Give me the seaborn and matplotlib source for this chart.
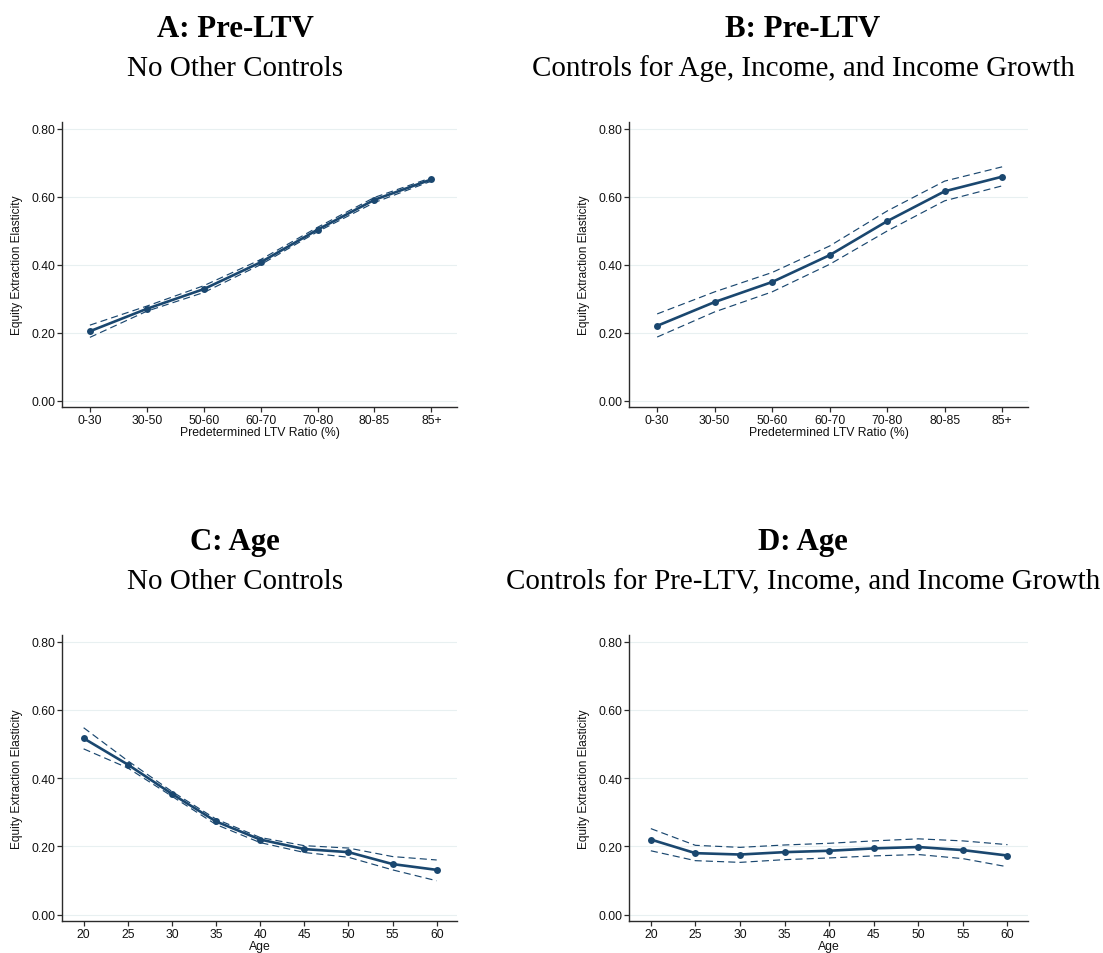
import matplotlib
matplotlib.use("Agg")
import matplotlib.pyplot as plt
import seaborn as sns
import pandas as pd

sns.set_theme(style="white")
plt.rcParams["font.family"] = ["Liberation Sans", "DejaVu Sans"]

# ---- data -------------------------------------------------------------
ltv_bins = ["0-30", "30-50", "50-60", "60-70", "70-80", "80-85", "85+"]
ages = [20, 25, 30, 35, 40, 45, 50, 55, 60]

ltv_nocontrols = [0.204, 0.270, 0.328, 0.407, 0.503, 0.591, 0.651]
ltv_nocontrols_hi = [0.222, 0.278, 0.338, 0.415, 0.510, 0.598, 0.656]
ltv_nocontrols_lo = [0.186, 0.263, 0.318, 0.400, 0.497, 0.583, 0.646]

ltv_controls = [0.220, 0.290, 0.349, 0.428, 0.528, 0.616, 0.659]
ltv_controls_hi = [0.255, 0.320, 0.377, 0.455, 0.558, 0.646, 0.688]
ltv_controls_lo = [0.187, 0.261, 0.320, 0.401, 0.499, 0.588, 0.632]

age_nocontrols = [0.517, 0.440, 0.354, 0.273, 0.220, 0.192, 0.183, 0.148, 0.131]
age_nocontrols_hi = [0.548, 0.451, 0.361, 0.280, 0.226, 0.202, 0.195, 0.170, 0.160]
age_nocontrols_lo = [0.486, 0.430, 0.347, 0.264, 0.211, 0.182, 0.168, 0.131, 0.099]

age_controls = [0.220, 0.180, 0.176, 0.183, 0.187, 0.194, 0.198, 0.189, 0.173]
age_controls_hi = [0.252, 0.203, 0.197, 0.204, 0.209, 0.216, 0.222, 0.216, 0.205]
age_controls_lo = [0.187, 0.158, 0.153, 0.161, 0.166, 0.172, 0.176, 0.164, 0.140]

y_ticks = [0.0, 0.2, 0.4, 0.6, 0.8]

titles = ["A: Pre-LTV", "B: Pre-LTV", "C: Age", "D: Age"]
subtitles = [
    "No Other Controls",
    "Controls for Age, Income, and Income Growth",
    "No Other Controls",
    "Controls for Pre-LTV, Income, and Income Growth",
]
ylabel = "Equity Extraction Elasticity"
xlabels = ["Predetermined LTV Ratio (%)", "Predetermined LTV Ratio (%)", "Age", "Age"]

# ---- style ------------------------------------------------------------
NAVY = "#1a476f"
GRID = "#e8f0f1"
SPINE = "#2b2b2b"
W, H = 1103, 954

fig = plt.figure(figsize=(W / 100, H / 100), dpi=100)
fig.patch.set_facecolor("white")


def px_axes(left, right, top, bottom):
    return fig.add_axes([left / W, 1 - bottom / H, (right - left) / W, (bottom - top) / H])


axes = [
    px_axes(62, 457, 123, 408),
    px_axes(629, 1028, 123, 408),
    px_axes(62, 457, 636, 922),
    px_axes(629, 1028, 636, 922),
]

panels = [
    (ltv_bins, ltv_nocontrols, ltv_nocontrols_lo, ltv_nocontrols_hi),
    (ltv_bins, ltv_controls, ltv_controls_lo, ltv_controls_hi),
    (ages, age_nocontrols, age_nocontrols_lo, age_nocontrols_hi),
    (ages, age_controls, age_controls_lo, age_controls_hi),
]

for i, (ax, (xv, est, lo, hi)) in enumerate(zip(axes, panels)):
    df = pd.DataFrame({"x": xv, "est": est, "lo": lo, "hi": hi})
    for col in ("hi", "lo"):
        sns.lineplot(data=df, x="x", y=col, ax=ax, color=NAVY, lw=0.85,
                     linestyle=(0, (6, 3.5)), estimator=None, errorbar=None,
                     sort=False, zorder=2)
    sns.lineplot(data=df, x="x", y="est", ax=ax, color=NAVY, lw=1.9,
                 marker="o", markersize=5, markeredgewidth=0,
                 estimator=None, errorbar=None, sort=False, zorder=3)

    ax.set_facecolor("white")
    ax.set_ylim(-0.019, 0.82)
    ax.set_yticks(y_ticks)
    ax.set_yticklabels([f"{t:.2f}" for t in y_ticks])
    if i < 2:
        ax.set_xlim(-0.49, 6.45)
        ax.set_xticks(range(len(ltv_bins)))
        ax.set_xticklabels(ltv_bins)
    else:
        ax.set_xlim(17.55, 62.3)
        ax.set_xticks(ages)
        ax.set_xticklabels([str(a) for a in ages])

    ax.grid(axis="y", color=GRID, lw=0.8)
    ax.grid(axis="x", visible=False)
    ax.set_axisbelow(True)
    for s in ("top", "right"):
        ax.spines[s].set_visible(False)
    for s in ("left", "bottom"):
        ax.spines[s].set_color(SPINE)
        ax.spines[s].set_linewidth(1.0)
    ax.tick_params(axis="both", which="major", length=3.5, width=0.9,
                   color=SPINE, pad=1.5, labelsize=8.7, labelcolor="#111111",
                   left=True, bottom=True)
    ax.set_ylabel(ylabel, fontsize=8.6, color="#111111", labelpad=6)
    ax.set_xlabel(xlabels[i], fontsize=8.8, color="#111111", labelpad=0.3)

# panel headings
centers = [235, 803, 235, 803]
base_title = [37, 37, 550, 550]
base_sub = [76, 76, 589, 589]
for cx, bt, bs, t, st in zip(centers, base_title, base_sub, titles, subtitles):
    fig.text(cx / W, 1 - bt / H, t, ha="center", va="baseline",
             fontsize=22.2, fontweight="bold", family=["Liberation Serif", "DejaVu Serif"],
             color="black")
    fig.text(cx / W, 1 - bs / H, st, ha="center", va="baseline",
             fontsize=20.9, family=["Liberation Serif", "DejaVu Serif"], color="black")

fig.savefig("out.png", dpi=100, facecolor="white")
